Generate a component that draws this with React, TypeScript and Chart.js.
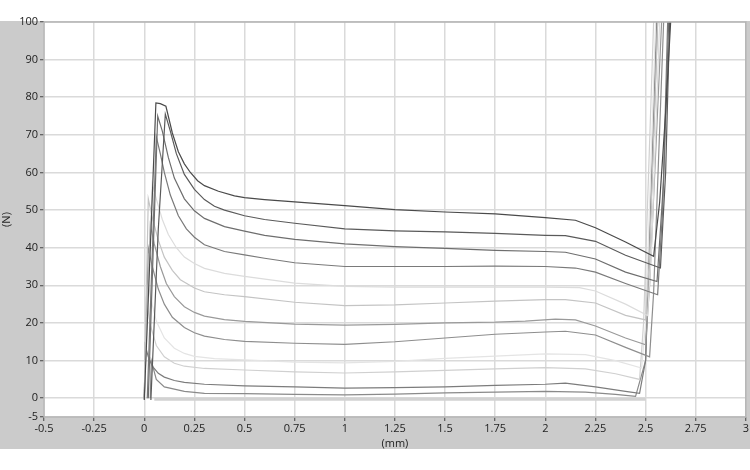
import React, { useEffect, useRef } from "react";
import { Chart, registerables } from "chart.js";

Chart.register(...registerables);

// Tick values
const xTicks = [-0.5, -0.25, 0, 0.25, 0.5, 0.75, 1, 1.25, 1.5, 1.75, 2, 2.25, 2.5, 2.75, 3];
const yTicks = [-5, 0, 10, 20, 30, 40, 50, 60, 70, 80, 90, 100];
const xTitle = "(mm)";
const yTitle = "(N)";

// Curves (displacement mm, force N)
const c1X = [0, 0.033, 0.058, 0.08, 0.108, 0.14, 0.17, 0.2, 0.23, 0.266, 0.3, 0.37, 0.45, 0.5, 0.6, 0.75, 1.0, 1.25, 1.5, 1.75, 2.0, 2.15, 2.25, 2.4, 2.54, 2.57, 2.6, 2.625];
const c1Y = [-0.5, 44, 78.5, 78.3, 77.6, 70.5, 65.5, 62.3, 60.0, 57.8, 56.5, 55, 53.8, 53.3, 52.8, 52.2, 51.2, 50.1, 49.5, 49.0, 48.0, 47.3, 45.3, 41.5, 37.7, 52, 76, 100];

const c2X = [0.033, 0.07, 0.105, 0.13, 0.16, 0.2, 0.25, 0.3, 0.35, 0.4, 0.5, 0.6, 0.75, 1.0, 1.25, 1.5, 1.75, 2.0, 2.1, 2.25, 2.4, 2.574, 2.6, 2.62];
const c2Y = [-0.5, 45, 75.5, 71, 65, 59.5, 55.5, 52.8, 51, 50, 48.5, 47.5, 46.5, 45.0, 44.5, 44.2, 43.8, 43.3, 43.2, 41.7, 38, 34.6, 60, 100];

const c3X = [0.02, 0.067, 0.09, 0.12, 0.15, 0.2, 0.25, 0.3, 0.4, 0.5, 0.6, 0.75, 1.0, 1.25, 1.5, 1.75, 2.0, 2.1, 2.25, 2.4, 2.557, 2.59, 2.615];
const c3Y = [0, 75, 71, 64, 58.5, 53, 49.8, 47.8, 45.6, 44.4, 43.3, 42.2, 41.0, 40.3, 39.8, 39.3, 39.0, 38.8, 37.0, 33.5, 31.0, 58, 100];

const c4X = [0.015, 0.06, 0.08, 0.1, 0.13, 0.17, 0.21, 0.25, 0.3, 0.4, 0.5, 0.6, 0.75, 1.0, 1.25, 1.5, 1.75, 2.0, 2.15, 2.25, 2.4, 2.56, 2.585, 2.61];
const c4Y = [0, 69.5, 65, 60, 54, 48.5, 45, 42.8, 40.8, 39, 38.1, 37.2, 36, 35.0, 35.0, 35.0, 35.1, 35.0, 34.6, 33.5, 30.5, 27.5, 50, 100];

const c5X = [0, 0.04, 0.06, 0.09, 0.12, 0.16, 0.2, 0.25, 0.3, 0.4, 0.5, 0.75, 1.0, 1.25, 1.5, 1.75, 2.0, 2.17, 2.25, 2.4, 2.51, 2.53, 2.57];
const c5Y = [0, 57, 53, 47.5, 43.5, 40, 37.5, 35.8, 34.5, 33.2, 32.4, 30.6, 29.7, 29.5, 29.5, 29.5, 29.5, 29.4, 28.5, 25, 22, 40, 100];

const c6X = [0, 0.02, 0.04, 0.07, 0.1, 0.14, 0.18, 0.25, 0.3, 0.4, 0.5, 0.75, 1.0, 1.25, 1.5, 1.75, 2.0, 2.1, 2.25, 2.4, 2.5, 2.52, 2.56];
const c6Y = [0, 53, 48, 42, 37.5, 34, 31.5, 29.3, 28.3, 27.5, 27.0, 25.5, 24.6, 24.8, 25.3, 25.8, 26.2, 26.2, 25.3, 22, 20.8, 38, 100];

const c7X = [0, 0.03, 0.05, 0.08, 0.11, 0.15, 0.2, 0.25, 0.3, 0.4, 0.5, 0.75, 1.0, 1.25, 1.5, 1.75, 1.9, 2.05, 2.15, 2.25, 2.4, 2.5, 2.52, 2.58];
const c7Y = [0, 46, 41, 35, 30.5, 27, 24.3, 22.8, 21.8, 20.9, 20.4, 19.7, 19.4, 19.6, 20.0, 20.2, 20.5, 21.0, 20.8, 19.2, 16, 14.2, 30, 100];

const c8X = [0, 0.02, 0.04, 0.07, 0.1, 0.14, 0.2, 0.25, 0.3, 0.4, 0.5, 0.75, 1.0, 1.25, 1.5, 1.75, 2.0, 2.1, 2.25, 2.4, 2.52, 2.54, 2.59];
const c8Y = [0, 40, 35, 29, 25, 21.5, 18.8, 17.4, 16.5, 15.6, 15.1, 14.6, 14.3, 15.0, 16.0, 17.0, 17.6, 17.8, 16.8, 13.5, 11, 28, 100];

const c9X = [0, 0.015, 0.03, 0.06, 0.1, 0.15, 0.2, 0.25, 0.35, 0.5, 0.75, 1.0, 1.25, 1.5, 1.75, 2.0, 2.2, 2.35, 2.48, 2.5, 2.55];
const c9Y = [0, 33, 27, 20.5, 16, 13.3, 11.9, 11.1, 10.5, 10.2, 9.6, 9.4, 9.8, 10.6, 11.2, 11.8, 11.6, 10, 8, 20, 100];

const c10X = [0, 0.01, 0.03, 0.06, 0.1, 0.15, 0.2, 0.3, 0.5, 0.75, 1.0, 1.25, 1.5, 1.75, 2.0, 2.2, 2.35, 2.47, 2.49, 2.54];
const c10Y = [0, 27, 19.5, 14, 11, 9.3, 8.5, 7.9, 7.5, 7, 6.7, 7, 7.4, 7.8, 8.1, 7.8, 6.5, 5, 20, 100];

const c11X = [0, 0.005, 0.02, 0.04, 0.07, 0.1, 0.15, 0.2, 0.3, 0.5, 0.75, 1.0, 1.25, 1.5, 1.75, 2.0, 2.1, 2.25, 2.4, 2.47, 2.5, 2.555];
const c11Y = [0, 14, 11, 8.5, 6.6, 5.6, 4.7, 4.2, 3.7, 3.3, 3.0, 2.7, 2.8, 3.0, 3.4, 3.7, 4.0, 3.0, 1.8, 1.3, 10, 100];

const c12X = [0.03, 0.035, 0.06, 0.1, 0.2, 0.3, 0.5, 0.75, 1.0, 1.25, 1.5, 1.75, 2.0, 2.2, 2.35, 2.45, 2.5, 2.56];
const c12Y = [0, 10, 5, 3, 1.8, 1.3, 1.2, 1.0, 0.9, 1.1, 1.4, 1.6, 1.8, 1.6, 1.0, 0.5, 10, 100];

const c13X = [0.05, 2.5];
const c13Y = [-0.3, -0.3];

const curveColors = ["#4a4a4a", "#5a5a5a", "#6e6e6e", "#7a7a7a", "#dcdcdc", "#c4c4c4", "#9a9a9a", "#8e8e8e", "#e4e4e4", "#d0d0d0", "#7c7c7c", "#8a8a8a", "#d2d2d2"];

const curves = [
  [c1X, c1Y], [c2X, c2Y], [c3X, c3Y], [c4X, c4Y], [c5X, c5Y], [c6X, c6Y], [c7X, c7Y],
  [c8X, c8Y], [c9X, c9Y], [c10X, c10Y], [c11X, c11Y], [c12X, c12Y], [c13X, c13Y],
];

const FONT = "'Open Sans', 'Noto Sans', sans-serif";

export default function App() {
  const ref = useRef<HTMLCanvasElement | null>(null);

  useEffect(() => {
    if (!ref.current) return;
    const bgPlugin = {
      id: "bg",
      beforeDraw(chart: any) {
        const { ctx, chartArea } = chart;
        ctx.save();
        ctx.fillStyle = "#ffffff";
        ctx.fillRect(0, 0, chart.width, chart.height);
        ctx.fillStyle = "#cbcbcb";
        ctx.fillRect(0, 21, chart.width, 428);
        ctx.fillStyle = "#ffffff";
        ctx.fillRect(chartArea.left, chartArea.top, chartArea.right - chartArea.left, chartArea.bottom - chartArea.top);
        ctx.restore();
      },
      afterDraw(chart: any) {
        const { ctx, chartArea } = chart;
        ctx.save();
        ctx.strokeStyle = "#b4b4b4";
        ctx.lineWidth = 1.5;
        ctx.strokeRect(chartArea.left, chartArea.top, chartArea.right - chartArea.left, chartArea.bottom - chartArea.top);
        ctx.restore();
      },
    };

    const datasets = curves.map(([xs, ys], i) => ({
      data: xs.map((x, j) => ({ x, y: ys[j] })),
      borderColor: curveColors[i],
      borderWidth: i === 12 ? 3 : 1.2,
      pointRadius: 0,
      showLine: true,
      fill: false,
      tension: 0,
    }));

    const chart = new Chart(ref.current, {
      type: "scatter",
      data: { datasets },
      plugins: [bgPlugin],
      options: {
        animation: false,
        responsive: false,
        maintainAspectRatio: false,
        layout: { padding: { left: 0, top: 22, right: 3, bottom: 20 } },
        plugins: { legend: { display: false }, tooltip: { enabled: false } },
        scales: {
          x: {
            type: "linear",
            min: -0.5,
            max: 3,
            afterBuildTicks: (s: any) => { s.ticks = xTicks.map((v) => ({ value: v })); },
            afterFit: (s: any) => { s.height = 33; },
            ticks: {
              callback: (v: any) => String(v),
              color: "#222",
              font: { family: FONT, size: 11 },
              padding: 1,
              maxRotation: 0,
              autoSkip: false,
            },
            grid: { color: "#dadada", lineWidth: 1.5, tickColor: "#444", tickLength: 4, tickWidth: 1 },
            border: { display: false },
            title: { display: true, text: xTitle, color: "#222", font: { family: FONT, size: 11 }, padding: { top: 0, bottom: 0 } },
          },
          y: {
            type: "linear",
            min: -5,
            max: 100,
            afterBuildTicks: (s: any) => { s.ticks = yTicks.map((v) => ({ value: v })); },
            afterFit: (s: any) => { s.width = 44; },
            ticks: {
              callback: (v: any) => String(v),
              color: "#222",
              font: { family: FONT, size: 11 },
              padding: 2,
              autoSkip: false,
            },
            grid: { color: "#dadada", lineWidth: 1.5, tickColor: "#444", tickLength: 4, tickWidth: 1 },
            border: { display: false },
            title: { display: true, text: yTitle, color: "#222", font: { family: FONT, size: 11 }, padding: { top: 0, bottom: 0 } },
          },
        },
      },
    });
    return () => chart.destroy();
  }, []);

  return (
    <div style={{ position: "absolute", left: 0, top: 0, width: 750, height: 470 }}>
      <canvas ref={ref} width={750} height={470} style={{ width: 750, height: 470, display: "block" }} />
    </div>
  );
}
